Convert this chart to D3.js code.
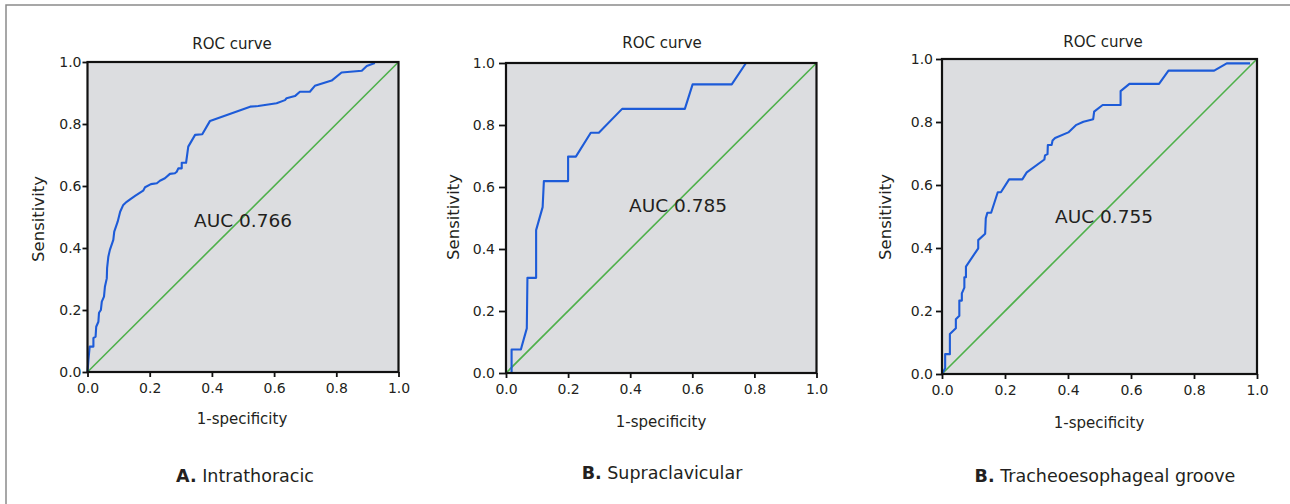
<!DOCTYPE html>
<html>
<head>
<meta charset="utf-8">
<script src="https://cdn.jsdelivr.net/npm/d3@7"></script>
<style>
  body { margin: 0; background: #fff; }
  svg text { font-family: "DejaVu Sans", sans-serif; fill: #231f20; }
</style>
</head>
<body>
<div id="chart"></div>
<script>
/* global d3 */
const tickValues = [0, 0.2, 0.4, 0.6, 0.8, 1.0];
const panelLetters = ['A.', 'B.', 'B.'];
const panelNames = ['Intrathoracic', 'Supraclavicular', 'Tracheoesophageal groove'];
const aucLabels = ['AUC 0.766', 'AUC 0.785', 'AUC 0.755'];

// Panel A - intrathoracic
const intrathoracicFpr = [0, 0.003, 0.007, 0.019, 0.019, 0.026, 0.028, 0.035, 0.037, 0.043, 0.046,
  0.053, 0.056, 0.062, 0.063, 0.067, 0.072, 0.083, 0.086, 0.097, 0.105, 0.115, 0.126, 0.137,
  0.153, 0.179, 0.185, 0.204, 0.223, 0.233, 0.249, 0.265, 0.281, 0.287, 0.292, 0.303, 0.303,
  0.317, 0.324, 0.346, 0.369, 0.394, 0.523, 0.549, 0.608, 0.635, 0.640, 0.667, 0.683, 0.715,
  0.731, 0.785, 0.817, 0.882, 0.898, 0.924];
const intrathoracicTpr = [0, 0.039, 0.082, 0.082, 0.109, 0.114, 0.146, 0.162, 0.191, 0.200, 0.227,
  0.243, 0.275, 0.302, 0.335, 0.372, 0.394, 0.426, 0.453, 0.485, 0.517, 0.539, 0.549, 0.557,
  0.568, 0.585, 0.596, 0.606, 0.609, 0.617, 0.625, 0.639, 0.641, 0.646, 0.657, 0.657, 0.675,
  0.675, 0.727, 0.765, 0.767, 0.810, 0.856, 0.858, 0.867, 0.877, 0.883, 0.890, 0.904, 0.904,
  0.923, 0.940, 0.966, 0.972, 0.987, 0.997];

// Panel B - supraclavicular
const supraclavicularFpr = [0.018, 0.018, 0.048, 0.051, 0.067, 0.069, 0.097, 0.097, 0.118, 0.122,
  0.200, 0.200, 0.225, 0.273, 0.299, 0.374, 0.576, 0.601, 0.727, 0.773];
const supraclavicularTpr = [0, 0.076, 0.076, 0.087, 0.144, 0.307, 0.307, 0.461, 0.535, 0.619,
  0.619, 0.698, 0.698, 0.775, 0.775, 0.852, 0.852, 0.931, 0.931, 1.0];

// Panel C - tracheoesophageal groove
const grooveFpr = [0, 0.010, 0.010, 0.025, 0.025, 0.044, 0.044, 0.055, 0.055, 0.063, 0.063, 0.071,
  0.071, 0.076, 0.076, 0.115, 0.115, 0.137, 0.139, 0.144, 0.156, 0.177, 0.187, 0.213, 0.255,
  0.269, 0.325, 0.327, 0.335, 0.336, 0.348, 0.351, 0.359, 0.401, 0.425, 0.449, 0.480, 0.483,
  0.510, 0.567, 0.567, 0.595, 0.689, 0.719, 0.864, 0.904, 0.978];
const grooveTpr = [0, 0.018, 0.063, 0.063, 0.127, 0.145, 0.174, 0.185, 0.233, 0.233, 0.256, 0.274,
  0.307, 0.307, 0.341, 0.399, 0.425, 0.445, 0.494, 0.512, 0.512, 0.577, 0.577, 0.618, 0.618,
  0.640, 0.681, 0.694, 0.698, 0.727, 0.727, 0.741, 0.749, 0.767, 0.790, 0.801, 0.809, 0.833,
  0.854, 0.854, 0.898, 0.921, 0.921, 0.963, 0.963, 0.986, 0.986];

const curves = [
  [intrathoracicFpr, intrathoracicTpr],
  [supraclavicularFpr, supraclavicularTpr],
  [grooveFpr, grooveTpr]
];

// Layout of each panel (pixels)
const layout = [
  { x: 87.5, y: 62, w: 311, h: 310, yTick: 5, yPad: 1, titleX: 232, titleY: 48.5,
    yLabX: 43.5, yLabY: 219, xLabX: 242, xLabY: 424, aucX: 243, aucY: 227, capX: 245, capY: 481.5 },
  { x: 506, y: 63, w: 310.5, h: 310, yTick: 7, yPad: 4, titleX: 662, titleY: 48,
    yLabX: 458.5, yLabY: 217, xLabX: 661, xLabY: 427, aucX: 678, aucY: 212, capX: 662, capY: 479 },
  { x: 942, y: 59, w: 315, h: 315, yTick: 6, yPad: 3, titleX: 1103, titleY: 46.5,
    yLabX: 891, yLabY: 217, xLabX: 1099, xLabY: 428, aucX: 1104, aucY: 222.5, capX: 1105, capY: 481.5 }
];

const svg = d3.select('#chart')
              .append('svg')
              .attr('width', 1290)
              .attr('height', 504);

// Outer frame of the figure
svg.append('path')
   .attr('d', 'M6,504 L6,5 L1290,5')
   .attr('fill', 'none')
   .attr('stroke', '#8a8a8a')
   .attr('stroke-width', 1.5);

layout.forEach((p, i) => {
  let g = svg.append('g')
             .attr('transform', `translate(${p.x},${p.y})`);

  let x = d3.scaleLinear().domain([0, 1]).range([0, p.w]);
  let y = d3.scaleLinear().domain([0, 1]).range([p.h, 0]);

  g.append('rect')
   .attr('width', p.w)
   .attr('height', p.h)
   .attr('fill', '#dcdde0');

  // Reference diagonal
  g.append('path')
   .datum([0, 1])
   .attr('d', d3.line().x(d => x(d)).y(d => y(d)))
   .attr('stroke', '#4eb04a')
   .attr('stroke-width', 1.6)
   .attr('fill', 'none');

  // ROC curve
  let fpr = curves[i][0];
  let tpr = curves[i][1];
  g.append('path')
   .datum(fpr.map((v, k) => [v, tpr[k]]))
   .attr('d', d3.line().x(d => x(d[0])).y(d => y(d[1])))
   .attr('stroke', '#1d5bd8')
   .attr('stroke-width', 2.1)
   .attr('stroke-linejoin', 'round')
   .attr('fill', 'none');

  g.append('rect')
   .attr('width', p.w)
   .attr('height', p.h)
   .attr('fill', 'none')
   .attr('stroke', '#111')
   .attr('stroke-width', 2.2);

  let xAxis = g.append('g')
               .attr('transform', `translate(0,${p.h})`)
               .call(d3.axisBottom(x)
                       .tickValues(tickValues)
                       .tickFormat(d3.format('.1f'))
                       .tickSize(5)
                       .tickSizeOuter(0)
                       .tickPadding(6));

  let yAxis = g.append('g')
               .call(d3.axisLeft(y)
                       .tickValues(tickValues)
                       .tickFormat(d3.format('.1f'))
                       .tickSize(p.yTick)
                       .tickSizeOuter(0)
                       .tickPadding(p.yPad));

  [xAxis, yAxis].forEach(a => {
    a.select('.domain').remove();
    a.selectAll('line').attr('stroke', '#111').attr('stroke-width', 1.8);
    a.selectAll('text')
     .attr('fill', '#231f20')
     .style('font-family', '"DejaVu Sans", sans-serif')
     .style('font-size', '14px');
  });

  svg.append('text')
     .attr('x', p.titleX)
     .attr('y', p.titleY)
     .attr('text-anchor', 'middle')
     .style('font-size', '15px')
     .text('ROC curve');

  svg.append('text')
     .attr('transform', `translate(${p.yLabX},${p.yLabY}) rotate(-90)`)
     .attr('text-anchor', 'middle')
     .style('font-size', '16.5px')
     .text('Sensitivity');

  svg.append('text')
     .attr('x', p.xLabX)
     .attr('y', p.xLabY)
     .attr('text-anchor', 'middle')
     .style('font-size', '15px')
     .text('1-specificity');

  svg.append('text')
     .attr('x', p.aucX)
     .attr('y', p.aucY)
     .attr('text-anchor', 'middle')
     .style('font-size', '18.5px')
     .text(aucLabels[i]);

  let cap = svg.append('text')
               .attr('x', p.capX)
               .attr('y', p.capY)
               .attr('text-anchor', 'middle')
               .style('font-size', '17.5px');
  cap.append('tspan')
     .style('font-weight', 'bold')
     .text(panelLetters[i]);
  cap.append('tspan')
     .text(' ' + panelNames[i]);
});
</script>
</body>
</html>
